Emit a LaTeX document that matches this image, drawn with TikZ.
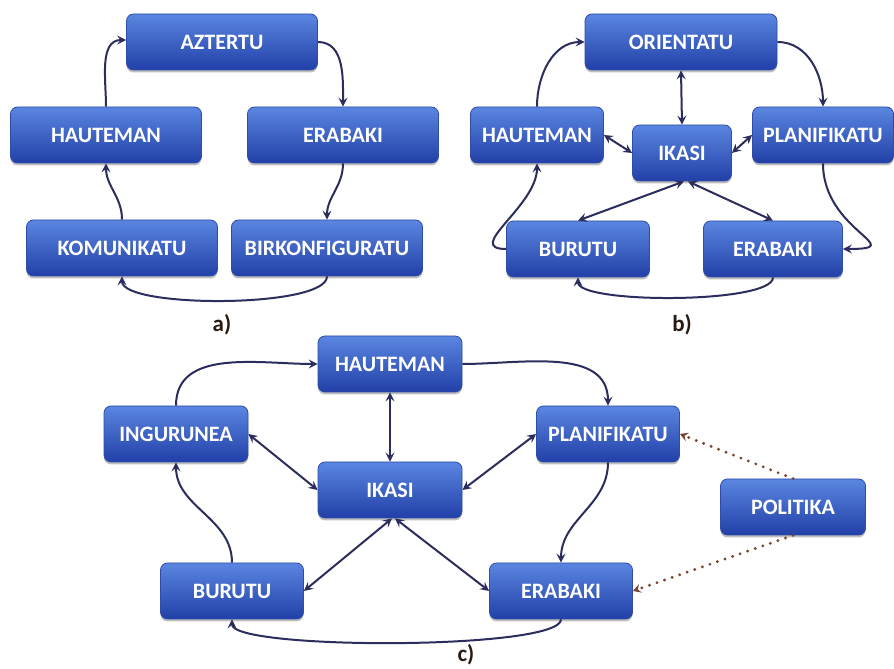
\documentclass[tikz,border=0pt]{standalone}
\usepackage{fontspec}
\setmainfont{Carlito}
\usetikzlibrary{arrows.meta,shadows}
\definecolor{boxtop}{HTML}{5A86E0}
\definecolor{boxbot}{HTML}{2240A8}
\definecolor{boxedge}{HTML}{2E4CA8}
\definecolor{wire}{HTML}{2B2D5C}
\definecolor{dotc}{HTML}{7A4433}
\definecolor{lbl}{HTML}{2A1A10}

\begin{document}
\begin{tikzpicture}[x=1pt,y=1pt,
  blk/.style={rounded corners=7pt, minimum width=#1, minimum height=56pt,
    top color=boxtop, bottom color=boxbot, draw=boxedge, line width=.8pt,
    text=white, font=\fontsize{22}{24}\selectfont\bfseries,
    drop shadow={shadow xshift=0pt, shadow yshift=-2.5pt, fill=black, opacity=.25}},
  blk/.default=191pt,
  lnk/.style={draw=wire, line width=2pt},
  pol/.style={draw=dotc, line width=3.2pt, line cap=round, dash pattern=on 0pt off 8pt},
  tag/.style={text=lbl, font=\fontsize{23}{24}\selectfont\bfseries},
  >={Stealth[length=9pt,width=9pt,inset=3.5pt]}]
  \useasboundingbox (0,0) rectangle (894,669);

  % a)
  \node[blk] (azt) at (222,627) {AZTERTU};
  \node[blk] (hauA) at (106,534) {HAUTEMAN};
  \node[blk] (erbA) at (343,534) {ERABAKI};
  \node[blk] (kom) at (122,421) {KOMUNIKATU};
  \node[blk] (bir) at (327,421) {BIRKONFIGURATU};
  \node[tag] (la) at (222,344) {a)};
  \draw[lnk,->] (hauA.north) to[out=90,in=180] ([yshift=2pt]azt.west);
  \draw[lnk,->] (azt.east) to[out=0,in=90] (erbA.north);
  \draw[lnk,->] (erbA.south) to[out=-90,in=90] (bir.north);
  \draw[lnk,->] (bir.south) to[out=-90,in=-90,looseness=.4] (kom.south);
  \draw[lnk,->] (kom.north) to[out=90,in=-90] (hauA.south);

  % b)
  \node[blk=192pt] (ori) at (681,627) {ORIENTATU};
  \node[blk=133pt] (hauB) at (537,534) {HAUTEMAN};
  \node[blk=99pt] (ikaB) at (682,516) {IKASI};
  \node[blk=141pt] (plaB) at (823,534) {PLANIFIKATU};
  \node[blk=143pt] (burB) at (578,420) {BURUTU};
  \node[blk=139pt] (erbB) at (773,420) {ERABAKI};
  \node[tag] (lb) at (682,344) {b)};
  \draw[lnk,->] (hauB.north) to[out=90,in=180] (ori.west);
  \draw[lnk,->] (ori.east) to[out=0,in=90] (plaB.north);
  \draw[lnk,<->] (ori.south) -- (ikaB.north);
  \draw[lnk,<->] (hauB.east) -- (ikaB.west);
  \draw[lnk,<->] (plaB.west) -- (ikaB.east);
  \draw[lnk,<->] ([xshift=2pt]ikaB.south) -- (burB.north);
  \draw[lnk,<->] ([xshift=6pt]ikaB.south) -- (erbB.north);
  \draw[lnk,->] (plaB.south) to[out=-90,in=0,looseness=2] (erbB.east);
  \draw[lnk,->] (erbB.south) to[out=-90,in=-90,looseness=.35] (burB.south);
  \draw[lnk,->] (burB.west) to[out=180,in=-90,looseness=1.2] (hauB.south);

  % c)
  \node[blk=144pt] (hauC) at (390,305) {HAUTEMAN};
  \node[blk=144pt] (ing) at (176,235) {INGURUNEA};
  \node[blk=144pt] (ikaC) at (390,179) {IKASI};
  \node[blk=143pt] (plaC) at (608,235) {PLANIFIKATU};
  \node[blk=143pt] (burC) at (232,78) {BURUTU};
  \node[blk=143pt] (erbC) at (561,78) {ERABAKI};
  \node[blk=145pt] (pol) at (793,162) {POLITIKA};
  \node[tag] (lc) at (466,14) {c)};
  \draw[lnk,->] (ing.north) to[out=90,in=180] (hauC.west);
  \draw[lnk,->] (hauC.east) to[out=0,in=90] (plaC.north);
  \draw[lnk,<->] (hauC.south) -- (ikaC.north);
  \draw[lnk,<->] (ing.east) -- (ikaC.west);
  \draw[lnk,<->] (plaC.west) -- (ikaC.east);
  \draw[lnk,<->] ([xshift=2pt]ikaC.south) -- (burC.east);
  \draw[lnk,<->] ([xshift=5pt]ikaC.south) -- (erbC.west);
  \draw[lnk,->] (plaC.south) to[out=-90,in=90] (erbC.north);
  \draw[lnk,->] (erbC.south) to[out=-90,in=-90,looseness=.24] (burC.south);
  \draw[lnk,->] (burC.north) to[out=90,in=-90] (ing.south);
  \draw[pol,->,>={Stealth[length=8pt,width=9pt,inset=3pt]}] (pol.north) -- (plaC.east);
  \draw[pol,->,>={Stealth[length=8pt,width=9pt,inset=3pt]}] (pol.south) -- (erbC.east);
\end{tikzpicture}
\end{document}
